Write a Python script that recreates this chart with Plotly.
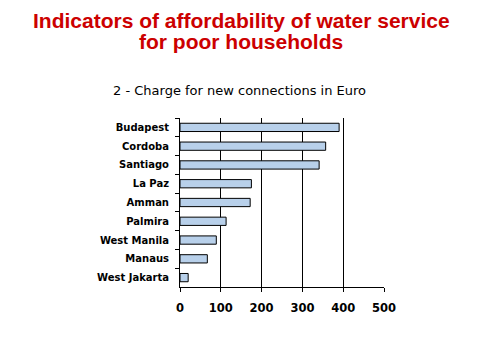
import plotly.graph_objects as go

cities = ["Budapest", "Cordoba", "Santiago", "La Paz", "Amman", "Palmira",
          "West Manila", "Manaus", "West Jakarta"]
charges = [390, 357, 341, 175, 172, 113, 89, 67, 20]
x_ticks = [0, 100, 200, 300, 400, 500]

# page has an 8px body margin, so offsets are compensated here
L, T, PW, PH = 172, 110, 204, 169

fig = go.Figure(go.Bar(
    x=charges, y=cities, orientation="h",
    marker=dict(color="#b8d0ea", line=dict(color="black", width=1)),
))

fig.update_layout(
    width=481, height=361,
    margin=dict(l=L, r=481 - L - PW, t=T, b=361 - T - PH),
    paper_bgcolor="white", plot_bgcolor="white",
    showlegend=False, bargap=0.56,
)

def px_x(px):
    return (px - 8 - L) / PW

def px_y(py):
    return 1 + (T - (py - 8)) / PH

title_font = dict(family="Liberation Sans, Arial", size=21, color="#cc0000")
fig.add_annotation(text="<b>Indicators of affordability of water service</b>",
                   xref="paper", yref="paper", x=px_x(241), y=px_y(21),
                   xanchor="center", yanchor="middle", showarrow=False, font=title_font)
fig.add_annotation(text="<b>for poor households</b>",
                   xref="paper", yref="paper", x=px_x(241), y=px_y(42),
                   xanchor="center", yanchor="middle", showarrow=False, font=title_font)
fig.add_annotation(text="2 - Charge for new connections in Euro",
                   xref="paper", yref="paper", x=px_x(239), y=px_y(90),
                   xanchor="center", yanchor="middle", showarrow=False,
                   font=dict(family="DejaVu Sans, Verdana", size=13, color="black"))

fig.update_xaxes(
    range=[0, 500], tickvals=x_ticks, showgrid=True, gridcolor="black", gridwidth=1,
    showline=True, linecolor="black", linewidth=1,
    ticks="outside", ticklen=4, tickcolor="black", ticklabelstandoff=6,
    tickfont=dict(family="DejaVu Sans, Verdana", size=11.5, color="black", weight="bold"),
    zeroline=False, fixedrange=True,
)
fig.update_yaxes(
    categoryorder="array", categoryarray=cities, autorange="reversed",
    showline=True, linecolor="black", linewidth=1, mirror=False,
    ticks="outside", ticklen=4, tickcolor="black", tickson="boundaries",
    tickfont=dict(family="DejaVu Sans, Verdana", size=10, color="black", weight="bold"),
    showgrid=False, ticklabelstandoff=8,
)

fig.write_html("out.html")
